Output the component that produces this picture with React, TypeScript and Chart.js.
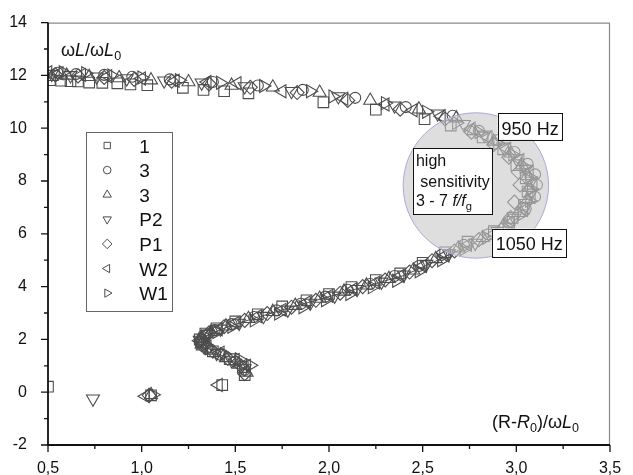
import React, { useEffect, useRef } from 'react';
import { Chart, registerables } from 'chart.js';

Chart.register(...registerables);

const X_MIN = 0.5;
const X_MAX = 3.5;
const Y_MIN = -2;
const Y_MAX = 14;
const X_TICKS = [0.5, 1.0, 1.5, 2.0, 2.5, 3.0, 3.5];
const X_TICK_LABELS = ['0,5', '1,0', '1,5', '2,0', '2,5', '3,0', '3,5'];
const Y_TICKS = [-2, 0, 2, 4, 6, 8, 10, 12, 14];

const SERIES_LABELS = ['1', '3', '3', 'P2', 'P1', 'W2', 'W1'];

const s1: [number, number][] = [
  [0.5, 0.21], [1.05, -0.12], [1.43, 0.27], [1.55, 0.65], [1.54, 0.95], [1.47, 1.25], [1.38, 1.55], [1.32, 1.8],
  [1.31, 2.0], [1.34, 2.22], [1.4, 2.42], [1.5, 2.68], [1.62, 2.95], [1.75, 3.25], [1.88, 3.48], [2.0, 3.72],
  [2.12, 3.98], [2.25, 4.25], [2.38, 4.5], [2.5, 4.9], [2.62, 5.3], [2.74, 5.7], [2.88, 6.1], [2.98, 6.6],
  [3.04, 7.1], [3.06, 7.6], [3.05, 8.1], [3.0, 8.6], [2.93, 9.2], [2.82, 9.65], [2.65, 10.1], [2.51, 10.34],
  [2.25, 10.7], [1.97, 10.98], [1.57, 11.32], [1.44, 11.4], [1.33, 11.45], [1.22, 11.53], [1.03, 11.63],
  [0.94, 11.66], [0.87, 11.7], [0.79, 11.72], [0.72, 11.73], [0.66, 11.77], [0.62, 11.78], [0.57, 11.8], [0.51, 11.82],
];

const s3circle: [number, number][] = [
  [1.55, 0.85], [1.5, 1.15], [1.42, 1.42], [1.35, 1.68], [1.31, 1.92], [1.33, 2.15], [1.39, 2.35], [1.48, 2.58],
  [1.6, 2.85], [1.72, 3.1], [1.85, 3.35], [1.98, 3.62], [2.1, 3.88], [2.22, 4.1], [2.35, 4.4], [2.48, 4.78],
  [2.6, 5.2], [2.72, 5.58], [2.85, 5.98], [2.96, 6.45], [3.05, 6.95], [3.1, 7.4], [3.11, 7.85], [3.1, 8.25],
  [3.06, 8.65], [2.99, 9.1], [2.9, 9.55], [2.8, 9.9], [2.66, 10.47], [2.41, 10.8], [2.14, 11.15], [1.86, 11.45],
  [1.62, 11.62], [1.38, 11.75], [1.15, 11.85], [0.95, 11.95], [0.8, 12.02], [0.65, 12.05], [0.55, 12.1],
];

const s3tri: [number, number][] = [
  [1.05, -0.1], [1.56, 0.75], [1.52, 1.05], [1.45, 1.3], [1.37, 1.58], [1.32, 1.82], [1.32, 2.05], [1.37, 2.28],
  [1.45, 2.5], [1.57, 2.78], [1.7, 3.05], [1.82, 3.28], [1.95, 3.55], [2.08, 3.82], [2.2, 4.05], [2.32, 4.3],
  [2.45, 4.62], [2.57, 5.05], [2.69, 5.45], [2.82, 5.85], [2.93, 6.3], [3.01, 6.8], [3.06, 7.3], [3.07, 7.75],
  [3.06, 8.2], [3.03, 8.6], [2.97, 9.05], [2.88, 9.5], [2.77, 9.9], [2.68, 10.38], [2.48, 10.72], [2.22, 11.05],
  [1.95, 11.35], [1.7, 11.55], [1.48, 11.62], [1.25, 11.75], [1.05, 11.82], [0.88, 11.9], [0.72, 11.95],
  [0.6, 12.0], [0.52, 11.95],
];

const sP2: [number, number][] = [
  [0.74, -0.25], [1.55, 0.9], [1.48, 1.2], [1.4, 1.48], [1.33, 1.75], [1.31, 1.98], [1.35, 2.2], [1.42, 2.4],
  [1.52, 2.62], [1.65, 2.88], [1.78, 3.12], [1.9, 3.38], [2.03, 3.65], [2.15, 3.9], [2.28, 4.18], [2.4, 4.45],
  [2.52, 4.85], [2.64, 5.25], [2.78, 5.65], [2.9, 6.1], [2.99, 6.6], [3.05, 7.05], [3.08, 7.55], [3.08, 8.0],
  [3.05, 8.45], [3.0, 8.85], [2.93, 9.3], [2.83, 9.75], [2.72, 10.15], [2.58, 10.55], [2.35, 10.85],
  [2.05, 11.2], [1.8, 11.4], [1.55, 11.58], [1.32, 11.72], [1.12, 11.8], [0.92, 11.88], [0.76, 11.95],
  [0.62, 12.0], [0.52, 12.05],
];

const sP1: [number, number][] = [
  [1.04, -0.12], [1.55, 0.7], [1.53, 1.0], [1.46, 1.28], [1.38, 1.55], [1.32, 1.8], [1.32, 2.02], [1.36, 2.25],
  [1.44, 2.48], [1.55, 2.72], [1.67, 2.98], [1.8, 3.22], [1.93, 3.48], [2.06, 3.75], [2.18, 4.0], [2.3, 4.25],
  [2.43, 4.55], [2.55, 4.98], [2.67, 5.35], [2.8, 5.78], [2.92, 6.15], [2.97, 6.62], [2.99, 7.2], [3.02, 7.85],
  [3.01, 8.34], [2.96, 8.9], [2.88, 9.38], [2.76, 9.85], [2.62, 10.35], [2.38, 10.72], [2.1, 11.05],
  [1.83, 11.35], [1.58, 11.55], [1.36, 11.68], [1.16, 11.78], [0.96, 11.85], [0.8, 11.92], [0.66, 11.98],
  [0.54, 12.02],
];

const sW2: [number, number][] = [
  [1.02, -0.15], [1.41, 0.27], [1.56, 1.0], [1.5, 1.22], [1.42, 1.5], [1.35, 1.72], [1.31, 1.95], [1.34, 2.18],
  [1.41, 2.38], [1.5, 2.62], [1.62, 2.88], [1.75, 3.12], [1.88, 3.4], [2.0, 3.65], [2.13, 3.9], [2.25, 4.15],
  [2.38, 4.4], [2.5, 4.78], [2.62, 5.18], [2.74, 5.58], [2.87, 5.95], [2.97, 6.42], [3.04, 6.9], [3.08, 7.4],
  [3.09, 7.9], [3.07, 8.35], [3.02, 8.8], [2.95, 9.22], [2.85, 9.65], [2.76, 9.98], [2.6, 10.45],
  [2.45, 10.68], [2.3, 10.9], [2.08, 11.12], [1.75, 11.4], [1.51, 11.7], [1.35, 11.75], [1.18, 11.8],
  [1.0, 11.88], [0.82, 11.97], [0.68, 12.02], [0.56, 12.08], [0.5, 12.12],
];

const sW1: [number, number][] = [
  [1.06, -0.1], [1.58, 1.02], [1.52, 1.25], [1.44, 1.45], [1.36, 1.66], [1.32, 1.88], [1.34, 2.1], [1.4, 2.28],
  [1.48, 2.48], [1.6, 2.72], [1.73, 2.98], [1.86, 3.22], [1.98, 3.48], [2.11, 3.72], [2.23, 3.98], [2.36, 4.22],
  [2.48, 4.58], [2.6, 5.0], [2.72, 5.42], [2.84, 5.85], [2.95, 6.28], [3.03, 6.75], [3.07, 7.25], [3.08, 7.7],
  [3.07, 8.15], [3.04, 8.55], [2.98, 9.0], [2.9, 9.42], [2.8, 9.85], [2.68, 10.2], [2.52, 10.62], [2.3, 10.95],
  [2.02, 11.2], [1.9, 11.4], [1.65, 11.6], [1.42, 11.72], [1.2, 11.82], [1.0, 11.92], [0.84, 12.0],
  [0.7, 12.08], [0.58, 12.12],
];

// thin guide line through the lower branch
const guideLine: [number, number][] = [
  [1.56, 0.85], [1.46, 1.28], [1.37, 1.6], [1.31, 1.88], [1.35, 2.15], [1.45, 2.45], [1.6, 2.8], [1.8, 3.22],
  [2.0, 3.62], [2.2, 4.02], [2.4, 4.42], [2.55, 4.9], [2.7, 5.4], [2.78, 5.65],
];

// annotation positions (data units)
const CIRCLE_CENTER: [number, number] = [2.784, 7.83];
const CIRCLE_RADIUS_X = 0.388;
const BOX_950: [number, number] = [2.9, 10.59];
const BOX_1050: [number, number] = [2.869, 6.2];
const BOX_HS: [number, number] = [2.448, 9.24];
const LEGEND_POS: [number, number] = [0.704, 9.875];

const FONT = '"Liberation Sans", Arial, Helvetica, sans-serif';
const MARKER = '#4d4d4d';

type Style = { ps: string; rot: number; r: number; lr: number };
const STYLES: Style[] = [
  { ps: 'rect', rot: 0, r: 7.5, lr: 4.5 },
  { ps: 'circle', rot: 0, r: 5.5, lr: 3.8 },
  { ps: 'triangle', rot: 0, r: 7.5, lr: 4.8 },
  { ps: 'triangle', rot: 180, r: 7.5, lr: 4.8 },
  { ps: 'rectRot', rot: 0, r: 7, lr: 4.8 },
  { ps: 'triangle', rot: 270, r: 7.5, lr: 4.8 },
  { ps: 'triangle', rot: 90, r: 7.5, lr: 4.8 },
];

function drawMarker(ctx: CanvasRenderingContext2D, st: Style, x: number, y: number, r: number) {
  ctx.beginPath();
  if (st.ps === 'rect') {
    const h = r * Math.SQRT1_2;
    ctx.rect(x - h, y - h, 2 * h, 2 * h);
  } else if (st.ps === 'circle') {
    ctx.arc(x, y, r, 0, Math.PI * 2);
  } else if (st.ps === 'rectRot') {
    ctx.moveTo(x - r, y);
    ctx.lineTo(x, y - r);
    ctx.lineTo(x + r, y);
    ctx.lineTo(x, y + r);
    ctx.closePath();
  } else {
    let rad = (st.rot * Math.PI) / 180;
    ctx.moveTo(x + Math.sin(rad) * r, y - Math.cos(rad) * r);
    for (let k = 0; k < 2; k++) {
      rad += (2 * Math.PI) / 3;
      ctx.lineTo(x + Math.sin(rad) * r, y - Math.cos(rad) * r);
    }
    ctx.closePath();
  }
  ctx.stroke();
}

type Seg = [string, string];
function drawRich(ctx: CanvasRenderingContext2D, x: number, y: number, segs: Seg[], size: number) {
  let cx = x;
  ctx.textAlign = 'left';
  ctx.textBaseline = 'alphabetic';
  for (const [t, s] of segs) {
    const italic = s.includes('i');
    const sub = s.includes('s');
    const fs = sub ? size * 0.7 : size;
    ctx.font = `${italic ? 'italic ' : ''}${fs}px ${FONT}`;
    ctx.fillText(t, cx, sub ? y + size * 0.22 : y);
    cx += ctx.measureText(t).width;
  }
}

const overlayPlugin = {
  id: 'overlay',
  afterDatasetsDraw(chart: any) {
    const { ctx, chartArea } = chart;
    const xs = chart.scales.x;
    const ys = chart.scales.y;
    ctx.save();
    // high sensitivity circle (semi-transparent, over the markers)
    const cx = xs.getPixelForValue(CIRCLE_CENTER[0]);
    const cy = ys.getPixelForValue(CIRCLE_CENTER[1]);
    const rr = xs.getPixelForValue(CIRCLE_CENTER[0] + CIRCLE_RADIUS_X) - cx;
    ctx.beginPath();
    ctx.arc(cx, cy, rr, 0, Math.PI * 2);
    ctx.fillStyle = 'rgba(200,200,200,0.6)';
    ctx.fill();
    ctx.strokeStyle = '#a9a9d6';
    ctx.lineWidth = 1;
    ctx.stroke();

    // boxes
    const box = (pos: [number, number], w: number, h: number) => {
      const bx = xs.getPixelForValue(pos[0]);
      const by = ys.getPixelForValue(pos[1]);
      ctx.fillStyle = '#ffffff';
      ctx.fillRect(bx, by, w, h);
      ctx.strokeStyle = '#111';
      ctx.lineWidth = 1;
      ctx.strokeRect(Math.round(bx) + 0.5, Math.round(by) + 0.5, w, h);
      return [bx, by];
    };
    let [bx, by] = box(BOX_950, 64, 27);
    ctx.fillStyle = '#111';
    drawRich(ctx, bx + 4, by + 22, [['950 Hz', 'n']], 18);
    [bx, by] = box(BOX_1050, 74, 28);
    ctx.fillStyle = '#111';
    drawRich(ctx, bx + 4, by + 21, [['1050 Hz', 'n']], 18);
    [bx, by] = box(BOX_HS, 79, 66);
    ctx.fillStyle = '#111';
    drawRich(ctx, bx + 3, by + 18, [['high', 'n']], 16);
    drawRich(ctx, bx + 3, by + 39, [[' sensitivity', 'n']], 16);
    drawRich(ctx, bx + 3, by + 58, [['3 - 7 ', 'n'], ['f/f', 'i'], ['g', 's']], 16);

    // legend
    const lx = xs.getPixelForValue(LEGEND_POS[0]);
    const ly = ys.getPixelForValue(LEGEND_POS[1]);
    ctx.fillStyle = '#fff';
    ctx.fillRect(lx, ly, 86, 179);
    ctx.strokeStyle = '#666';
    ctx.lineWidth = 1;
    ctx.strokeRect(Math.round(lx) + 0.5, Math.round(ly) + 0.5, 86, 179);
    SERIES_LABELS.forEach((lab, i) => {
      const yy = ly + 14 + i * 24.6;
      ctx.strokeStyle = MARKER;
      ctx.lineWidth = 1;
      drawMarker(ctx, STYLES[i], lx + 21, yy, STYLES[i].lr);
      ctx.fillStyle = '#111';
      drawRich(ctx, lx + 53, yy + 7, [[lab, 'n']], 19);
    });

    // axis titles
    ctx.fillStyle = '#111';
    drawRich(ctx, chartArea.left + 13, chartArea.top + 33, [['ω', 'n'], ['L', 'i'], ['/ω', 'n'], ['L', 'i'], ['0', 's']], 18);
    drawRich(ctx, chartArea.right - 118, chartArea.bottom - 17, [['(R-', 'n'], ['R', 'i'], ['0', 's'], [')/ω', 'n'], ['L', 'i'], ['0', 's']], 18);

    // frame
    const { left, right, top, bottom } = chartArea;
    ctx.strokeStyle = '#8a8a8a';
    ctx.lineWidth = 1.2;
    ctx.beginPath();
    ctx.moveTo(left, top + 0.5);
    ctx.lineTo(right - 0.5, top + 0.5);
    ctx.lineTo(right - 0.5, bottom);
    ctx.stroke();
    ctx.strokeStyle = '#111';
    ctx.lineWidth = 1.8;
    ctx.beginPath();
    ctx.moveTo(left, top);
    ctx.lineTo(left, bottom);
    ctx.lineTo(right, bottom);
    ctx.stroke();
    // ticks
    ctx.lineWidth = 1.3;
    ctx.beginPath();
    for (let v = Y_MIN; v <= Y_MAX + 1e-9; v += 1) {
      const p = ys.getPixelForValue(v);
      const len = Math.abs(v % 2) < 1e-9 ? 7 : 4;
      ctx.moveTo(left, p);
      ctx.lineTo(left - len, p);
    }
    for (let v = X_MIN; v <= X_MAX + 1e-9; v += 0.25) {
      const p = xs.getPixelForValue(v);
      const major = Math.abs(v * 2 - Math.round(v * 2)) < 1e-9;
      ctx.moveTo(p, bottom);
      ctx.lineTo(p, bottom + (major ? 7 : 4));
    }
    ctx.stroke();
    ctx.restore();
  },
};

export default function App() {
  const ref = useRef<HTMLCanvasElement | null>(null);
  useEffect(() => {
    if (!ref.current) return;
    const all = [s1, s3circle, s3tri, sP2, sP1, sW2, sW1];
    const datasets: any[] = all.map((pts, i) => ({
      label: SERIES_LABELS[i],
      data: pts.map(([x, y]) => ({ x, y })),
      pointStyle: STYLES[i].ps,
      rotation: STYLES[i].rot,
      pointRadius: STYLES[i].r,
      pointBorderWidth: 1.1,
      borderColor: MARKER,
      pointBorderColor: MARKER,
      backgroundColor: 'rgba(0,0,0,0)',
      pointBackgroundColor: 'rgba(0,0,0,0)',
      showLine: false,
    }));
    datasets.push({
      label: 'guide',
      data: guideLine.map(([x, y]) => ({ x, y })),
      showLine: true,
      pointRadius: 0,
      borderColor: '#222',
      borderWidth: 0.8,
      backgroundColor: 'rgba(0,0,0,0)',
    });
    const chart = new Chart(ref.current, {
      type: 'scatter',
      data: { datasets },
      options: {
        responsive: false,
        animation: false,
        layout: { padding: { left: 0, right: 23, top: 19, bottom: 0 } },
        plugins: { legend: { display: false }, tooltip: { enabled: false } },
        scales: {
          x: {
            type: 'linear',
            min: X_MIN,
            max: X_MAX,
            grid: { display: false },
            border: { display: false },
            afterBuildTicks: (sc: any) => {
              sc.ticks = X_TICKS.map((v) => ({ value: v }));
            },
            afterFit: (sc: any) => {
              sc.height = 30;
            },
            ticks: {
              autoSkip: false,
              maxRotation: 0,
              padding: 6,
              color: '#111',
              font: { family: FONT, size: 16 },
              callback: (v: any) => {
                const idx = X_TICKS.findIndex((t) => Math.abs(t - Number(v)) < 1e-9);
                return idx >= 0 ? X_TICK_LABELS[idx] : '';
              },
            },
          },
          y: {
            type: 'linear',
            min: Y_MIN,
            max: Y_MAX,
            grid: { display: false },
            border: { display: false },
            afterBuildTicks: (sc: any) => {
              sc.ticks = Y_TICKS.map((v) => ({ value: v }));
            },
            afterFit: (sc: any) => {
              sc.width = 48;
            },
            ticks: {
              autoSkip: false,
              padding: 13,
              color: '#111',
              font: { family: FONT, size: 16 },
              callback: (v: any) => String(v),
            },
          },
        },
      },
      plugins: [overlayPlugin],
    });
    return () => chart.destroy();
  }, []);
  return (
    <div style={{ position: 'fixed', left: 0, top: 0, width: 633, height: 475, background: '#fff' }}>
      <canvas ref={ref} width={633} height={475} style={{ display: 'block' }} />
    </div>
  );
}
